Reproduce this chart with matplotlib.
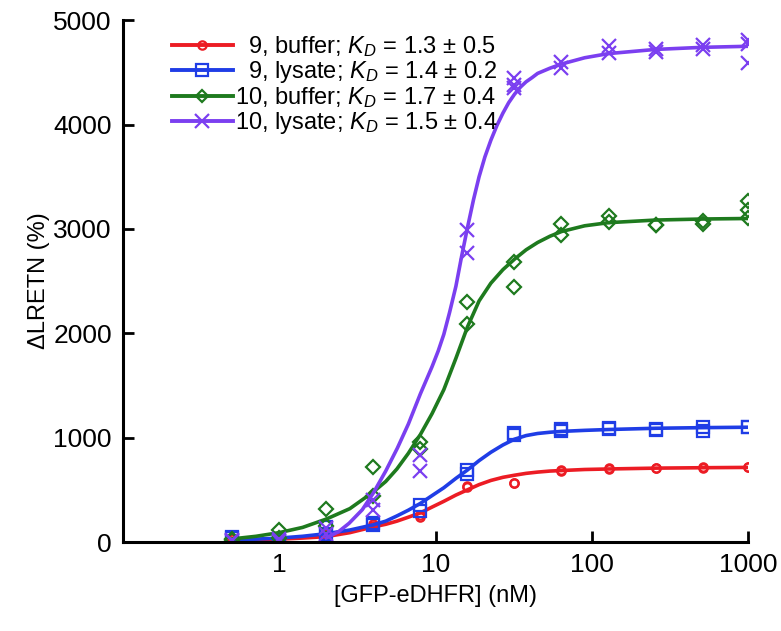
import numpy as np
import matplotlib.pyplot as plt
from matplotlib.lines import Line2D

plt.rcParams['font.family'] = ['Liberation Sans', 'DejaVu Sans']
plt.rcParams['mathtext.fontset'] = 'custom'
plt.rcParams['mathtext.it'] = 'Liberation Sans:italic'
plt.rcParams['mathtext.rm'] = 'Liberation Sans'

# measured points (two replicates per concentration, three at 1000 nM for some)
conc = [0.5, 0.5, 1, 1, 2, 2, 4, 4, 8, 8, 16, 16, 32, 32, 64, 64,
        128, 128, 256, 256, 512, 512, 1000, 1000]
conc3 = conc + [1000]
red_pts = [30, 30, 10, 20, 60, 80, 170, 150, 240, 260, 530, 540, 565, 570,
           690, 680, 705, 700, 705, 710, 710, 715, 715, 720]
blue_pts = [50, 40, 20, 10, 80, 140, 180, 160, 355, 295, 690, 650, 1040, 1030,
            1080, 1060, 1090, 1085, 1080, 1075, 1100, 1060, 1100, 1100]
green_pts = [30, 20, 120, 40, 320, 150, 720, 440, 960, 890, 2300, 2090, 2680, 2440,
             3050, 2940, 3120, 3065, 3040, 3040, 3075, 3045, 3265, 3180, 3100]
purple_x = conc[:12] + [32, 32, 32, 64, 64, 128, 128, 256, 256, 512, 512, 1000, 1000, 1000]
purple_pts = [10, 20, 30, 10, 80, 130, 400, 310, 830, 680, 2990, 2770, 4450, 4380, 4350,
              4600, 4540, 4750, 4690, 4720, 4700, 4760, 4720, 4810, 4770, 4590]

# fitted curves
fit_x = [0.5, 0.71, 1, 1.41, 2, 2.83, 4, 4.8, 5.66, 6.7, 8, 9.5, 11.3, 13.5, 16, 19,
         22.6, 27, 32, 38, 45, 54, 64, 90, 128, 256, 512, 1000]
red_fit = [18, 22, 28, 38, 52, 90, 145, 170, 200, 238, 280, 335, 390, 450, 500, 550,
           590, 620, 640, 658, 670, 680, 685, 695, 700, 708, 712, 715]
blue_fit = [20, 28, 38, 55, 80, 115, 165, 200, 250, 305, 370, 445, 520, 610, 690, 780,
            860, 930, 985, 1020, 1040, 1052, 1060, 1070, 1078, 1090, 1096, 1100]
green_fit = [30, 55, 90, 140, 220, 320, 480, 580, 700, 850, 1030, 1230, 1460, 1760, 2060, 2310,
             2480, 2610, 2710, 2800, 2870, 2930, 2975, 3030, 3060, 3085, 3095, 3100]
purple_fit_x = [2, 2.4, 2.8, 3.4, 4, 4.8, 5.7, 6.7, 8, 9.5, 10.4, 11.3, 12.3, 13.5, 14.7,
                16, 17.5, 19, 20.7, 22.6, 24.7, 27, 29.4, 32, 35, 38, 41.5, 45, 54, 64,
                90, 128, 256, 512, 1000]
purple_fit = [40, 100, 180, 310, 470, 680, 900, 1130, 1420, 1680, 1830, 1990, 2200, 2450, 2740,
              3010, 3280, 3500, 3690, 3850, 3990, 4110, 4210, 4290, 4360, 4410, 4450, 4490, 4540, 4580,
              4640, 4680, 4720, 4740, 4750]

labels = ['\u20079, buffer; $K_D$ = 1.3 \u00b1 0.5',
          '\u20079, lysate; $K_D$ = 1.4 \u00b1 0.2',
          '10, buffer; $K_D$ = 1.7 \u00b1 0.4',
          '10, lysate; $K_D$ = 1.5 \u00b1 0.4']
colors = ['#ec1c24', '#1f3de6', '#1e7a1e', '#7b3ff0']

fig = plt.figure(figsize=(7.81, 6.31), dpi=100)
ax = fig.add_axes([0.1575, 0.141, 0.8003, 0.827])

ax.plot(conc, red_pts, 'o', mfc='none', mec=colors[0], ms=6, mew=1.6)
ax.plot(fit_x, red_fit, '-', color=colors[0], lw=2.6)
ax.plot(conc, blue_pts, 's', mfc='none', mec=colors[1], ms=8, mew=1.6)
ax.plot(fit_x, blue_fit, '-', color=colors[1], lw=2.6)
ax.plot(conc3, green_pts, 'D', mfc='none', mec=colors[2], ms=7, mew=1.6)
ax.plot(fit_x, green_fit, '-', color=colors[2], lw=2.6)
ax.plot(purple_x, purple_pts, 'x', color=colors[3], ms=10, mew=1.6)
ax.plot(purple_fit_x, purple_fit, '-', color=colors[3], lw=2.6)

ax.set_xscale('log')
ax.set_xlim(0.1, 1000)
ax.set_ylim(0, 5000)
ax.set_xticks([1, 10, 100, 1000])
ax.set_xticklabels(['1', '10', '100', '1000'])
ax.xaxis.set_minor_locator(plt.NullLocator())
ax.set_yticks([0, 1000, 2000, 3000, 4000, 5000])
ax.tick_params(direction='in', length=8, width=2, labelsize=19, pad=8)
for s in ['top', 'right']:
    ax.spines[s].set_visible(False)
for s in ['left', 'bottom']:
    ax.spines[s].set_linewidth(2.2)

ax.set_xlabel('[GFP-eDHFR] (nM)', fontsize=17, labelpad=6)
ax.set_ylabel('\u0394LRETN (%)', fontsize=17, labelpad=2)

markers = ['o', 's', 'D', 'x']
msizes = [6, 8, 6, 10]
handles = []
for c, m, sz in zip(colors, markers, msizes):
    if m == 'x':
        handles.append(Line2D([], [], color=c, lw=2.8, marker=m, ms=sz, mew=1.6))
    else:
        handles.append(Line2D([], [], color=c, lw=2.8, marker=m, ms=sz, mew=1.6,
                              mfc='none', mec=c))
ax.legend(handles, labels, loc='upper left', bbox_to_anchor=(0.055, 1.0), frameon=False,
          fontsize=17, handlelength=2.6, handletextpad=0.1, labelspacing=0.0,
          borderaxespad=0.2)

plt.savefig('out.png', dpi=100)
